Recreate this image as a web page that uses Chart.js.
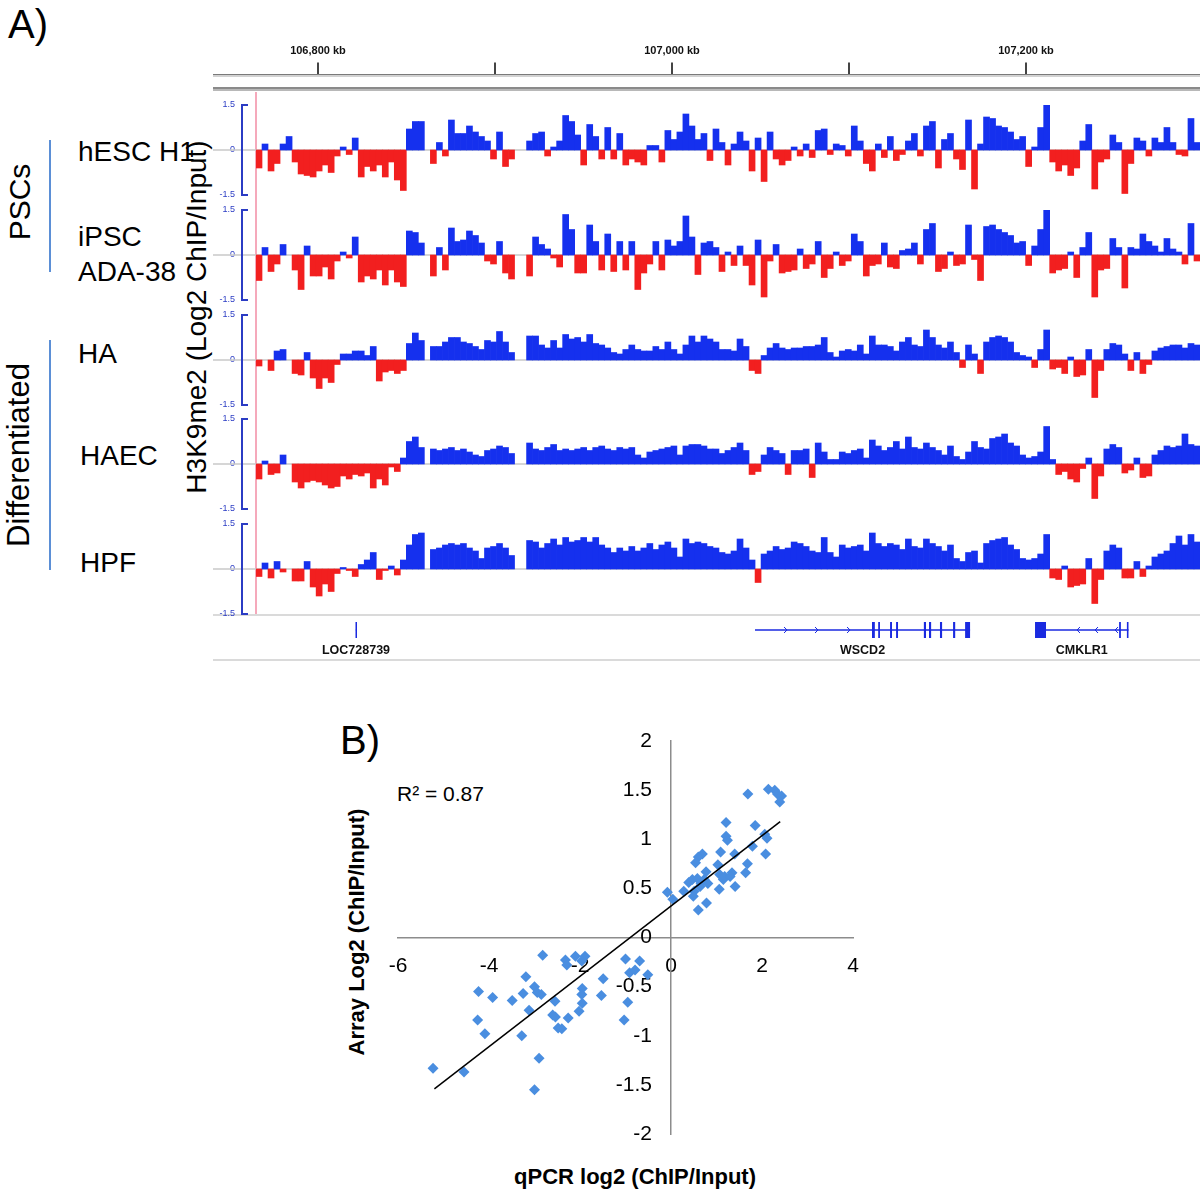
<!DOCTYPE html>
<html><head><meta charset="utf-8">
<script src="https://cdn.jsdelivr.net/npm/chart.js@4.4.1/dist/chart.umd.min.js"></script>
<style>
html,body{margin:0;padding:0;background:#fff;}
body{width:1200px;height:1190px;position:relative;overflow:hidden;font-family:"Liberation Sans",Arial,Helvetica,sans-serif;}
.ln{position:absolute;}
.t{position:absolute;white-space:nowrap;color:#000;line-height:1;transform:translateY(-50%);}
.r{position:absolute;white-space:nowrap;color:#000;line-height:1;transform:translate(-50%,-50%) rotate(-90deg);}
.c{position:absolute;white-space:nowrap;color:#000;line-height:1;transform:translate(-50%,-50%);}
canvas{position:absolute;}
</style></head><body>

<!-- panel A decorations -->
<div class="t" style="left:8px;top:24px;font-size:40px;">A)</div>
<div class="ln" style="left:213px;top:74px;width:987px;height:1px;background:#7a7a7a"></div>
<div class="ln" style="left:213px;top:75px;width:987px;height:2px;background:#d2d2d2"></div>
<div class="ln" style="left:213px;top:87px;width:987px;height:2px;background:#8a8a8a"></div>
<div class="ln" style="left:213px;top:89px;width:987px;height:2px;background:#b8b8b8"></div>
<div class="ln" style="left:213px;top:614px;width:987px;height:2px;background:#dadada"></div>
<div class="ln" style="left:213px;top:659px;width:987px;height:2px;background:#dadada"></div>
<div class="ln" style="left:255px;top:92px;width:2px;height:522px;background:#f5a9bb"></div>
<div class="ln" style="left:49px;top:140px;width:2px;height:132px;background:#5b8fd6"></div>
<div class="ln" style="left:49px;top:340px;width:2px;height:230px;background:#5b8fd6"></div>

<div class="r" style="left:20px;top:202px;font-size:30px;">PSCs</div>
<div class="r" style="left:18px;top:455px;font-size:31px;">Differentiated</div>
<div class="t" style="left:78px;top:152px;font-size:28px;">hESC H1</div>
<div class="t" style="left:78px;top:237px;font-size:28px;">iPSC</div>
<div class="t" style="left:78px;top:272px;font-size:28px;">ADA-38</div>
<div class="t" style="left:78px;top:354px;font-size:28px;">HA</div>
<div class="t" style="left:80px;top:456px;font-size:28px;">HAEC</div>
<div class="t" style="left:80px;top:563px;font-size:28px;">HPF</div>
<div class="r" style="left:197px;top:317px;font-size:28px;">H3K9me2 (Log2 ChIP/Input)</div>

<canvas id="ruler" width="987" height="70" style="left:213px;top:35px;width:987px;height:70px;"></canvas>
<canvas id="t0" width="987" height="106" style="left:213px;top:97px;width:987px;height:106px;"></canvas>
<canvas id="t1" width="987" height="106" style="left:213px;top:202px;width:987px;height:106px;"></canvas>
<canvas id="t2" width="987" height="106" style="left:213px;top:307px;width:987px;height:106px;"></canvas>
<canvas id="t3" width="987" height="106" style="left:213px;top:411px;width:987px;height:106px;"></canvas>
<canvas id="t4" width="987" height="106" style="left:213px;top:516px;width:987px;height:106px;"></canvas>
<canvas id="genes" width="987" height="43" style="left:213px;top:615px;width:987px;height:43px;"></canvas>

<!-- panel B -->
<div class="t" style="left:340px;top:740px;font-size:40px;">B)</div>
<div class="t" style="left:397px;top:793px;font-size:21px;">R² = 0.87</div>
<div class="c" style="left:635px;top:1177px;font-size:22px;font-weight:bold;">qPCR log2 (ChIP/Input)</div>
<div class="r" style="left:357px;top:932px;font-size:22px;font-weight:bold;">Array Log2 (ChIP/Input)</div>
<canvas id="scatter" width="570" height="490" style="left:330px;top:700px;width:570px;height:490px;"></canvas>

<script>
// ---------------- DATA ----------------
const trackNames = ['hESC H1', 'iPSC ADA-38', 'HA', 'HAEC', 'HPF'];
const NBINS = 157;
const kbMin = 106740.7, kbMax = 107298.3;
const rulerTicks = [106800, 106900, 107000, 107100, 107200];
const rulerLabels = ['106,800 kb', '', '107,000 kb', '', '107,200 kb'];
const trackTicks = [-1.5, 0, 1.5];

const trackHESC = [
 -0.6, 0.2, -0.7, -0.45, 0.2, 0.45, -0.4, -0.8, -0.85, -0.9,
 -0.7, -0.5, -0.75, -0.2, 0.1, -0.15, 0.4, -0.9, -0.55, -0.7,
 -0.5, -0.9, -0.4, -1.0, -1.35, 0.7, 0.95, 0.95, null, -0.45,
 0.25, -0.2, 1.0, 0.55, 0.55, 0.8, 0.6, 0.45, 0.3, -0.3,
 0.6, -0.55, -0.3, null, null, 0.3, 0.55, 0.6, -0.2, 0.1,
 0.3, 1.15, 0.95, 0.5, -0.5, 0.85, 0.45, -0.3, 0.75, -0.3,
 0.55, -0.5, -0.3, -0.4, -0.5, 0.15, 0.15, -0.4, 0.65, 0.35,
 0.6, 1.2, 0.8, 0.35, 0.55, -0.35, 0.7, 0.25, -0.5, 0.2,
 0.6, 0.3, -0.7, 0.4, -1.05, 0.6, -0.3, -0.5, -0.35, 0.1,
 -0.2, 0.2, -0.25, 0.65, 0.7, -0.15, 0.2, 0.15, -0.2, 0.8,
 0.3, -0.45, -0.7, 0.2, -0.25, 0.45, -0.35, -0.15, 0.3, 0.55,
 -0.2, 0.8, 0.95, -0.6, 0.35, 0.55, -0.3, -0.65, 1.0, -1.3,
 0.2, 1.1, 1.05, 0.8, 0.75, 0.6, 0.35, 0.45, -0.55, 0.1,
 0.75, 1.5, -0.4, -0.7, -0.5, -0.85, -0.6, 0.3, 0.85, -1.3,
 -0.4, -0.3, 0.5, 0.25, -1.45, -0.45, 0.4, 0.3, -0.2, 0.4,
 0.25, 0.75, 0.25, -0.15, -0.2, 1.05, 0.25
];
const trackIPSC = [
 -0.85, 0.25, -0.55, -0.3, 0.35, null, -0.5, -1.15, 0.3, -0.7,
 -0.7, -0.4, -0.8, -0.2, 0.1, -0.1, 0.6, -0.9, -0.7, -0.8,
 -0.5, -1.0, -0.5, -0.9, -1.05, 0.8, 0.75, 0.4, null, -0.7,
 0.25, -0.5, 0.9, 0.45, 0.5, 0.8, 0.65, 0.4, -0.2, -0.3,
 0.45, -0.6, -0.8, null, null, -0.7, 0.6, 0.35, 0.2, -0.1,
 -0.4, 1.35, 0.85, -0.6, -0.6, 1.0, 0.45, -0.5, 0.7, -0.55,
 0.45, -0.5, 0.45, -1.15, -0.6, -0.3, 0.45, -0.5, 0.5, 0.3,
 0.45, 1.3, 0.6, -0.65, 0.4, 0.45, 0.25, -0.55, 0.1, -0.35,
 0.3, -0.35, -1.0, 0.5, -1.4, -0.2, 0.35, -0.6, -0.55, -0.5,
 0.2, -0.45, -0.3, 0.45, -0.75, -0.45, 0.1, -0.35, -0.2, 0.7,
 0.45, -0.7, -0.35, -0.3, 0.4, -0.4, -0.45, 0.15, 0.2, 0.4,
 -0.3, 0.85, 1.05, -0.55, -0.45, 0.1, -0.35, -0.3, 1.0, -0.15,
 -0.85, 0.95, 1.0, 0.85, 0.75, 0.65, 0.4, 0.45, -0.35, 0.3,
 0.85, 1.5, -0.6, -0.5, -0.45, 0.1, -0.75, 0.25, 0.75, -1.4,
 -0.5, -0.45, 0.55, 0.25, -1.1, 0.25, 0.2, 0.7, 0.45, 0.3,
 0.1, 0.55, 0.2, 0.1, -0.3, 1.05, -0.2
];
const trackHA = [
 -0.2, null, -0.35, 0.3, 0.35, null, -0.45, -0.5, 0.25, -0.6,
 -0.95, -0.6, -0.75, -0.15, 0.2, 0.2, 0.3, 0.3, 0.15, 0.45,
 -0.7, -0.4, -0.35, -0.45, -0.35, 0.55, 0.9, 0.65, null, 0.45,
 0.45, 0.6, 0.75, 0.75, 0.6, 0.55, 0.45, 0.35, 0.65, 0.6,
 0.95, 0.6, 0.25, null, null, 0.8, 0.8, 0.5, 0.4, 0.65,
 0.4, 0.85, 0.7, 0.75, 0.6, 0.85, 0.55, 0.5, 0.4, 0.25,
 0.2, 0.35, 0.5, 0.35, 0.3, 0.3, 0.45, 0.35, 0.6, 0.35,
 0.2, 0.5, 0.8, 0.6, 0.8, 0.7, 0.6, 0.35, 0.35, 0.3,
 0.7, 0.45, -0.35, -0.45, 0.15, 0.4, 0.55, 0.4, 0.35, 0.4,
 0.4, 0.45, 0.45, 0.5, 0.75, 0.25, 0.1, 0.3, 0.35, 0.3,
 0.5, 0.2, 0.8, 0.5, 0.5, 0.45, 0.3, 0.6, 0.75, 0.5,
 0.45, 1.0, 0.75, 0.5, 0.4, 0.6, 0.25, -0.25, 0.5, 0.2,
 -0.45, 0.6, 0.75, 0.8, 0.75, 0.6, 0.25, 0.15, 0.1, -0.25,
 0.35, 1.0, -0.3, -0.25, -0.45, 0.1, -0.55, -0.5, 0.35, -1.25,
 -0.35, 0.35, 0.55, 0.5, 0.2, -0.35, 0.25, -0.45, -0.15, 0.3,
 0.4, 0.45, 0.5, 0.5, 0.4, 0.55, 0.5
];
const trackHAEC = [
 -0.5, 0.1, -0.35, -0.3, 0.3, null, -0.6, -0.8, -0.6, -0.55,
 -0.6, -0.7, -0.8, -0.75, -0.4, -0.5, -0.35, -0.4, -0.3, -0.8,
 -0.5, -0.7, -0.1, -0.25, 0.2, 0.75, 0.9, 0.55, null, 0.5,
 0.45, 0.5, 0.55, 0.45, 0.5, 0.4, 0.3, 0.25, 0.45, 0.5,
 0.6, 0.55, 0.35, null, null, 0.7, 0.5, 0.45, 0.55, 0.65,
 0.45, 0.5, 0.45, 0.5, 0.55, 0.45, 0.55, 0.6, 0.5, 0.45,
 0.55, 0.5, 0.55, 0.3, 0.2, 0.4, 0.45, 0.5, 0.55, 0.6,
 0.3, 0.6, 0.65, 0.65, 0.6, 0.5, 0.5, 0.35, 0.45, 0.55,
 0.7, 0.45, -0.35, -0.25, 0.3, 0.55, 0.45, 0.35, -0.35, 0.45,
 0.45, 0.5, -0.45, 0.7, 0.4, 0.15, 0.15, 0.4, 0.35, 0.45,
 0.5, 0.2, 0.8, 0.6, 0.45, 0.55, 0.75, 0.5, 0.9, 0.55,
 0.5, 0.7, 0.55, 0.45, 0.3, 0.6, 0.25, 0.15, 0.4, 0.75,
 0.55, 0.5, 0.85, 0.9, 1.0, 0.7, 0.6, 0.3, 0.2, 0.25,
 0.4, 1.25, 0.15, -0.35, -0.25, -0.5, -0.6, -0.15, 0.2, -1.15,
 -0.4, 0.5, 0.65, 0.55, -0.3, -0.2, 0.2, -0.45, -0.4, 0.3,
 0.45, 0.6, 0.55, 0.6, 1.0, 0.65, 0.6
];
const trackHPF = [
 -0.25, 0.2, -0.3, 0.25, -0.1, null, -0.4, -0.4, 0.25, -0.6,
 -0.9, -0.5, -0.75, -0.15, 0.05, -0.05, -0.25, 0.15, 0.3, 0.55,
 -0.35, -0.05, 0.1, -0.2, 0.3, 0.8, 1.15, 1.2, null, 0.65,
 0.7, 0.8, 0.85, 0.8, 0.85, 0.7, 0.6, 0.35, 0.7, 0.75,
 0.85, 0.7, 0.45, null, null, 0.95, 0.9, 0.7, 0.85, 1.0,
 0.8, 1.05, 0.9, 0.95, 1.05, 0.9, 1.05, 0.8, 0.7, 0.55,
 0.7, 0.6, 0.75, 0.6, 0.7, 0.85, 0.65, 0.8, 0.9, 0.7,
 0.4, 1.0, 0.85, 0.9, 0.85, 0.75, 0.7, 0.55, 0.5, 0.6,
 1.0, 0.7, 0.3, -0.45, 0.5, 0.6, 0.75, 0.65, 0.7, 0.9,
 0.85, 0.75, 0.6, 0.55, 1.05, 0.55, 0.4, 0.8, 0.7, 0.75,
 0.8, 0.6, 1.2, 0.85, 0.75, 0.85, 0.8, 0.65, 1.0, 0.75,
 0.7, 1.0, 0.85, 0.75, 0.6, 0.8, 0.35, 0.25, 0.55, 0.6,
 0.2, 0.85, 0.95, 1.0, 1.05, 0.8, 0.65, 0.35, 0.3, 0.35,
 0.5, 1.15, -0.3, -0.35, 0.1, -0.6, -0.55, -0.5, 0.35, -1.15,
 -0.35, 0.6, 0.8, 0.7, -0.3, -0.3, 0.25, -0.25, 0.1, 0.4,
 0.5, 0.6, 0.85, 1.1, 0.8, 1.15, 0.9
];

// genes (kb)
const geneNames = ['LOC728739', 'WSCD2', 'CMKLR1'];
const geneStarts = [106821.4, 107046.9, 107205.1];
const geneEnds = [106821.6, 107168.4, 107257.9];
const geneStrands = [0, 1, -1];
const geneExons = [
  [[106821.2, 106821.8]],
  [[107113.0, 107114.6], [107116.5, 107117.5], [107123.2, 107124.3], [107126.6, 107127.7], [107142.3, 107143.5], [107145.2, 107146.4], [107151.4, 107152.6], [107158.8, 107160.0], [107165.6, 107168.4]],
  [[107205.1, 107211.3], [107252.6, 107253.6], [107257.0, 107257.9]]
];
const geneArrows = [[], [107065.0, 107082.5, 107100.6], [107228.8, 107239.0, 107250.3]];

// panel B
const qpcrLog2 = [1.69,2.14,2.28,2.34,2.43,2.39,1.21,1.85,2.06,2.11,1.21,1.24,1.79,1.09,1.40,2.08,0.69,0.60,0.54,1.03,1.68,1.64,1.34,1.07,0.77,0.39,0.47,0.58,0.66,0.73,0.81,1.15,1.18,1.30,0.28,0.51,1.06,1.41,0.49,-0.08,0.04,0.78,0.60,0.64,
 -2.82,-2.32,-2.29,-2.10,-1.89,-1.96,-1.00,-0.69,-0.91,-0.79,-0.51,-3.19,-1.49,-1.95,-4.23,-3.92,-3.49,-3.25,-3.00,-2.94,-2.85,-2.55,-1.96,-1.53,-1.95,-0.95,-3.12,-2.02,-2.60,-2.54,-2.26,-4.25,-1.03,-2.48,-2.40,-4.09,-3.28,-2.90,-5.23,-4.55,-3.00];
const arrayLog2 = [1.46,1.51,1.50,1.46,1.44,1.38,1.17,1.14,1.05,1.01,1.03,0.99,0.93,0.87,0.85,0.85,0.85,0.82,0.76,0.74,0.75,0.66,0.66,0.64,0.67,0.56,0.59,0.60,0.55,0.59,0.55,0.59,0.62,0.62,0.47,0.47,0.49,0.52,0.42,0.46,0.39,0.35,0.28,0.52,
 -0.18,-0.23,-0.28,-0.19,-0.19,-0.24,-0.22,-0.24,-0.36,-0.33,-0.38,-0.40,-0.42,-0.52,-0.55,-0.61,-0.64,-0.57,-0.50,-0.56,-0.58,-0.65,-0.58,-0.59,-0.67,-0.66,-0.74,-0.75,-0.79,-0.81,-0.82,-0.84,-0.84,-0.92,-0.93,-0.98,-1.00,-1.23,-1.33,-1.37,-1.55];
const trendX = [-5.2, 2.4];
const trendY = [-1.54, 1.18];
const xTicksB = [-6, -4, -2, 0, 2, 4];
const yTicksB = [-2, -1.5, -1, -0.5, 0, 0.5, 1, 1.5, 2];

// ---------------- DRAWING ----------------
const FONT = '"Liberation Sans", Arial, Helvetica, sans-serif';
Chart.defaults.font.family = FONT;
Chart.defaults.maintainAspectRatio = false;
const BLUE = '#1530ee', RED = '#f21f1f', AXBLUE = '#2b3cc4';

new Chart(document.getElementById('ruler'), {
  type: 'scatter',
  data: { datasets: [] },
  options: {
    responsive: false, maintainAspectRatio: false, animation: false,
    layout: { padding: { top: 7, left: 0, right: 0, bottom: 0 } },
    plugins: { legend: { display: false }, tooltip: { enabled: false } },
    scales: {
      x: {
        type: 'linear', position: 'top', min: kbMin, max: kbMax,
        afterBuildTicks: s => { s.ticks = rulerTicks.map(v => ({ value: v })); },
        afterFit: s => { s.paddingLeft = 0; s.paddingRight = 0; },
        ticks: { autoSkip: false, maxRotation: 0, padding: 5, color: '#111',
                 font: { size: 11, weight: 'bold' }, callback: (v, i) => rulerLabels[i] },
        grid: { drawOnChartArea: false, drawTicks: true, tickLength: 11, color: '#444', lineWidth: 2 },
        border: { display: false }
      },
      y: { display: false }
    }
  }
});

const trackDecor = {
  id: 'trackDecor',
  beforeDatasetsDraw(chart) {
    const { ctx, chartArea, scales: { y } } = chart;
    const y0 = y.getPixelForValue(0);
    ctx.save();
    ctx.strokeStyle = '#c9c9c9'; ctx.lineWidth = 1.5;
    ctx.beginPath(); ctx.moveTo(0, y0); ctx.lineTo(chart.width, y0); ctx.stroke();
    const yt = y.getPixelForValue(1.5), yb = y.getPixelForValue(-1.5);
    const bx = chartArea.left - 14;
    ctx.strokeStyle = AXBLUE; ctx.lineWidth = 2;
    ctx.beginPath(); ctx.moveTo(bx + 6, yt); ctx.lineTo(bx, yt); ctx.lineTo(bx, yb); ctx.lineTo(bx + 6, yb); ctx.stroke();
    ctx.restore();
  }
};

const tracks = [trackHESC, trackIPSC, trackHA, trackHAEC, trackHPF];
const binLabels = Array.from({ length: NBINS }, (_, i) => String(i));
tracks.forEach((vals, k) => {
  new Chart(document.getElementById('t' + k), {
    type: 'bar',
    data: {
      labels: binLabels,
      datasets: [{ label: trackNames[k], data: vals,
        backgroundColor: vals.map(v => (v !== null && v < 0) ? RED : BLUE),
        barPercentage: 1, categoryPercentage: 1, borderWidth: 0 }]
    },
    options: {
      responsive: false, maintainAspectRatio: false, animation: false,
      layout: { padding: { top: 8, bottom: 8, left: 0, right: 0 } },
      plugins: { legend: { display: false }, tooltip: { enabled: false } },
      scales: {
        x: { display: false },
        y: {
          min: -1.5, max: 1.5,
          afterBuildTicks: s => { s.ticks = trackTicks.map(v => ({ value: v })); },
          afterFit: s => { s.width = 43; s.paddingTop = 0; s.paddingBottom = 0; },
          grid: { display: false, drawTicks: false }, border: { display: false },
          ticks: { color: AXBLUE, font: { size: 9 }, padding: 21, callback: v => String(v) }
        }
      }
    },
    plugins: [trackDecor]
  });
});

const geneDraw = {
  id: 'geneDraw',
  afterDraw(chart) {
    const { ctx, scales: { x } } = chart;
    const yc = 15;
    ctx.save();
    geneNames.forEach((name, g) => {
      ctx.strokeStyle = '#1a2ae0'; ctx.fillStyle = '#1a2ae0';
      const xs = x.getPixelForValue(geneStarts[g]), xe = x.getPixelForValue(geneEnds[g]);
      ctx.lineWidth = 1.5;
      ctx.beginPath(); ctx.moveTo(xs, yc); ctx.lineTo(xe, yc); ctx.stroke();
      geneExons[g].forEach(([a, b]) => {
        const xa = x.getPixelForValue(a), xb = x.getPixelForValue(b);
        ctx.fillRect(xa, yc - 8, Math.max(1.5, xb - xa), 16);
      });
      ctx.lineWidth = 1;
      geneArrows[g].forEach(p => {
        const xp = x.getPixelForValue(p), d = geneStrands[g] * 3;
        ctx.beginPath(); ctx.moveTo(xp - d, yc - 3); ctx.lineTo(xp, yc); ctx.lineTo(xp - d, yc + 3); ctx.stroke();
      });
      ctx.fillStyle = '#111';
      ctx.font = 'bold 12.5px ' + FONT;
      ctx.textAlign = 'center'; ctx.textBaseline = 'middle';
      ctx.fillText(name, (xs + xe) / 2, 36);
    });
    ctx.restore();
  }
};
new Chart(document.getElementById('genes'), {
  type: 'scatter',
  data: { datasets: [] },
  options: {
    responsive: false, maintainAspectRatio: false, animation: false,
    layout: { padding: 0 },
    plugins: { legend: { display: false }, tooltip: { enabled: false } },
    scales: { x: { type: 'linear', min: kbMin, max: kbMax, display: false }, y: { min: 0, max: 1, display: false } }
  },
  plugins: [geneDraw]
});

// Panel B scatter
const shiftYLabels = {
  id: 'shiftYLabels',
  beforeDraw(chart) {
    chart.scales.y.getLabelItems().forEach(it => {
      if (!it._shifted) { it.options.translation[0] -= 19; it._shifted = true; }
    });
  }
};
const pts = qpcrLog2.map((v, i) => ({ x: v, y: arrayLog2[i] }));
const trend = trendX.map((v, i) => ({ x: v, y: trendY[i] }));
new Chart(document.getElementById('scatter'), {
  type: 'scatter',
  data: {
    datasets: [
      { type: 'line', data: trend, borderColor: '#000', borderWidth: 1.5, pointRadius: 0, fill: false, order: 0 },
      { data: pts, pointStyle: 'rectRot', pointRadius: 5.5, backgroundColor: '#4a8ee0', borderWidth: 0, order: 1 }
    ]
  },
  options: {
    responsive: false, maintainAspectRatio: false, animation: false,
    layout: { padding: { left: 68, right: 47, top: 41, bottom: 56 } },
    plugins: { legend: { display: false }, tooltip: { enabled: false } },
    scales: {
      x: {
        type: 'linear', min: -6, max: 4, position: { y: 0 },
        afterBuildTicks: s => { s.ticks = xTicksB.map(v => ({ value: v })); },
        ticks: { autoSkip: false, maxRotation: 0, color: '#000', font: { size: 21 }, padding: 16, callback: v => String(v) },
        grid: { display: false, drawTicks: false },
        border: { color: '#8c8c8c', width: 1.5 }
      },
      y: {
        type: 'linear', min: -2, max: 2, position: { x: 0 },
        afterBuildTicks: s => { s.ticks = yTicksB.map(v => ({ value: v })); },
        ticks: { autoSkip: false, color: '#000', font: { size: 21 }, padding: 18, callback: v => String(v) },
        grid: { display: false, drawTicks: false },
        border: { color: '#8c8c8c', width: 1.5 }
      }
    }
  },
  plugins: [shiftYLabels]
});
</script>
</body></html>
